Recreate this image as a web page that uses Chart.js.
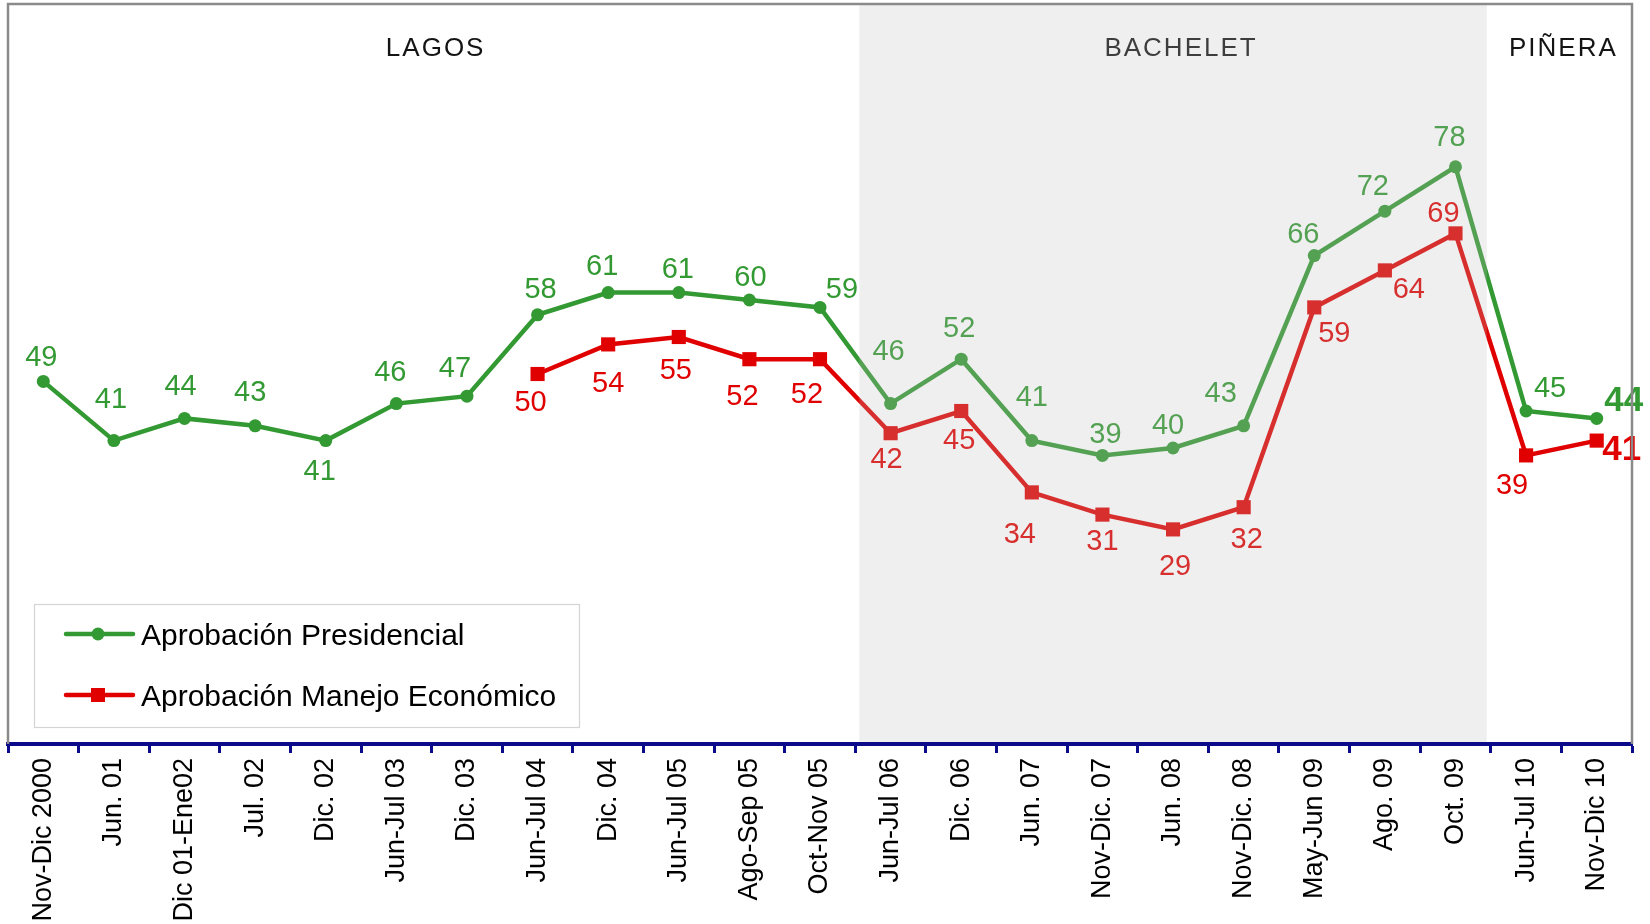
<!DOCTYPE html>
<html>
<head>
<meta charset="utf-8">
<script src="https://cdn.jsdelivr.net/npm/chart.js@4.4.1/dist/chart.umd.min.js"></script>
<style>
html,body{margin:0;padding:0;background:#fff;}
canvas{display:block;}
</style>
</head>
<body>
<canvas id="c" width="1650" height="924"></canvas>
<script>
// ---- data ----
const categories = ['Nov-Dic 2000','Jun. 01','Dic 01-Ene02','Jul. 02','Dic. 02','Jun-Jul 03','Dic. 03','Jun-Jul 04','Dic. 04','Jun-Jul 05','Ago-Sep 05','Oct-Nov 05','Jun-Jul 06','Dic. 06','Jun. 07','Nov-Dic. 07','Jun. 08','Nov-Dic. 08','May-Jun 09','Ago. 09','Oct. 09','Jun-Jul 10','Nov-Dic 10'];
const aprobacionPresidencial = [49,41,44,43,41,46,47,58,61,61,60,59,46,52,41,39,40,43,66,72,78,45,44];
const aprobacionEconomica = [null,null,null,null,null,null,null,50,54,55,52,52,42,45,34,31,29,32,59,64,69,39,41];
const seriesNames = ['Aprobación Presidencial','Aprobación Manejo Económico'];
const eraNames = ['LAGOS','BACHELET','PIÑERA'];
const eraFirst = [0,12,21];
const eraLast = [11,20,22];
const shadedEra = 1;

// ---- styles ----
const GREEN = '#339933';
const RED = '#e00000';
const eraTitleShift = [4,8,2];
const shadeInset = [4, 4];
// label offsets (px) relative to each point
const greenLabelOffsets = [[-2,-26],[-3,-43],[-4,-34],[-5,-35],[-6,29],[-6,-33],[-12,-30],[3,-27],[-6,-28],[-1,-25],[1,-24],[22,-20],[-2,-54],[-2,-33],[0,-45],[3,-23],[-5,-24],[-23,-34],[-11,-23],[-12,-27],[-6,-31],[24,-24],[27,-20]];
const redLabelOffsets = [null,null,null,null,null,null,null,[-7,27],[0,37],[-3,32],[-7,35],[-13,33],[-4,24],[-2,28],[-12,40],[0,25],[2,35],[3,30],[20,24],[24,17],[-12,-22],[-14,28],[25,7]];

const FONT = '"Liberation Sans", Arial, sans-serif';

const overlayPlugin = {
  id: 'overlay',
  afterDatasetsDraw(chart) {
    const ctx = chart.ctx;
    const xs = chart.scales.x;
    const ca = chart.chartArea;
    const edge = i => (xs.getPixelForValue(i) + xs.getPixelForValue(i + 1)) / 2;
    const left = i => i === 0 ? ca.left : edge(i - 1);
    const right = i => i === categories.length - 1 ? ca.right : edge(i);

    // data labels
    const offs = [greenLabelOffsets, redLabelOffsets];
    const cols = [GREEN, RED];
    ctx.save();
    chart.data.datasets.forEach((ds, di) => {
      const meta = chart.getDatasetMeta(di);
      meta.data.forEach((pt, i) => {
        const v = ds.data[i];
        if (v === null || v === undefined) return;
        const o = offs[di][i];
        const last = i === ds.data.length - 1;
        const size = last ? 35 : 29;
        ctx.font = (last ? 'bold ' : '') + size + 'px ' + FONT;
        ctx.fillStyle = cols[di];
        ctx.textAlign = 'center';
        ctx.textBaseline = 'alphabetic';
        ctx.fillText(String(v), pt.x + o[0], pt.y + o[1] + 0.358 * size);
      });
    });

    // era titles
    ctx.font = '26px ' + FONT;
    ctx.fillStyle = '#141414';
    ctx.textAlign = 'center';
    ctx.textBaseline = 'alphabetic';
    try { ctx.letterSpacing = '2px'; } catch (e) {}
    eraNames.forEach((n, k) => {
      const cx = (left(eraFirst[k]) + right(eraLast[k])) / 2;
      ctx.fillText(n, cx + eraTitleShift[k], ca.top + 43 + 0.358 * 26);
    });
    try { ctx.letterSpacing = '0px'; } catch (e) {}

    // shaded era (translucent overlay)
    ctx.fillStyle = 'rgba(190,190,190,0.245)';
    const sx0 = left(eraFirst[shadedEra]) + shadeInset[0];
    const sx1 = right(eraLast[shadedEra]) - shadeInset[1];
    ctx.fillRect(sx0, ca.top, sx1 - sx0, ca.bottom - ca.top - 2);

    // frame
    ctx.strokeStyle = '#8a8a8a';
    ctx.lineWidth = 2.5;
    ctx.beginPath();
    ctx.moveTo(ca.left, ca.bottom);
    ctx.lineTo(ca.left, ca.top);
    ctx.lineTo(ca.right, ca.top);
    ctx.lineTo(ca.right, ca.bottom);
    ctx.stroke();

    // legend
    const lx = ca.left + 26, ly = 604, lw = 545, lh = 123;
    ctx.fillStyle = '#ffffff';
    ctx.fillRect(lx, ly, lw, lh);
    ctx.strokeStyle = '#d4d4d4';
    ctx.lineWidth = 1.2;
    ctx.strokeRect(lx + 0.5, ly + 0.5, lw, lh);
    const rows = [ly + 30, ly + 91];
    rows.forEach((yy, k) => {
      ctx.strokeStyle = cols[k];
      ctx.lineWidth = 4.5;
      ctx.lineCap = 'round';
      ctx.beginPath();
      ctx.moveTo(66, yy);
      ctx.lineTo(133, yy);
      ctx.stroke();
      ctx.fillStyle = cols[k];
      if (k === 0) {
        ctx.beginPath();
        ctx.arc(98, yy, 6.5, 0, Math.PI * 2);
        ctx.fill();
      } else {
        ctx.fillRect(91, yy - 7, 14, 14);
      }
      ctx.fillStyle = '#000';
      ctx.font = '30px ' + FONT;
      ctx.textAlign = 'left';
      ctx.textBaseline = 'alphabetic';
      ctx.fillText(seriesNames[k], 141, yy + 0.358 * 30);
    });
    ctx.restore();
  }
};

new Chart(document.getElementById('c'), {
  type: 'line',
  data: {
    labels: categories,
    datasets: [
      {
        label: seriesNames[0],
        data: aprobacionPresidencial,
        borderColor: GREEN,
        backgroundColor: GREEN,
        borderWidth: 4.5,
        pointStyle: 'circle',
        pointRadius: 6.5,
        pointBorderWidth: 0,
        pointBackgroundColor: GREEN,
        tension: 0,
        fill: false
      },
      {
        label: seriesNames[1],
        data: aprobacionEconomica,
        borderColor: RED,
        backgroundColor: RED,
        borderWidth: 4.5,
        pointStyle: 'rect',
        pointRadius: 10,
        pointBorderWidth: 0,
        pointBackgroundColor: RED,
        tension: 0,
        fill: false,
        spanGaps: false
      }
    ]
  },
  options: {
    responsive: false,
    devicePixelRatio: 1,
    animation: false,
    layout: { autoPadding: false, padding: { left: 8, right: 18, top: 4, bottom: 0 } },
    plugins: { legend: { display: false }, tooltip: { enabled: false } },
    scales: {
      y: { display: false, min: 0, max: 100 },
      x: {
        offset: true,
        grid: {
          offset: true,
          drawOnChartArea: false,
          drawTicks: true,
          tickLength: 9,
          tickColor: '#0a0a8a',
          tickWidth: 3
        },
        border: { display: true, color: '#0a0a8a', width: 4 },
        ticks: {
          autoSkip: false,
          minRotation: 90,
          maxRotation: 90,
          padding: 5,
          color: '#000',
          font: { family: FONT, size: 27 }
        },
        afterFit(scale) { scale.height = 180; }
      }
    }
  },
  plugins: [overlayPlugin]
});
</script>
</body>
</html>
